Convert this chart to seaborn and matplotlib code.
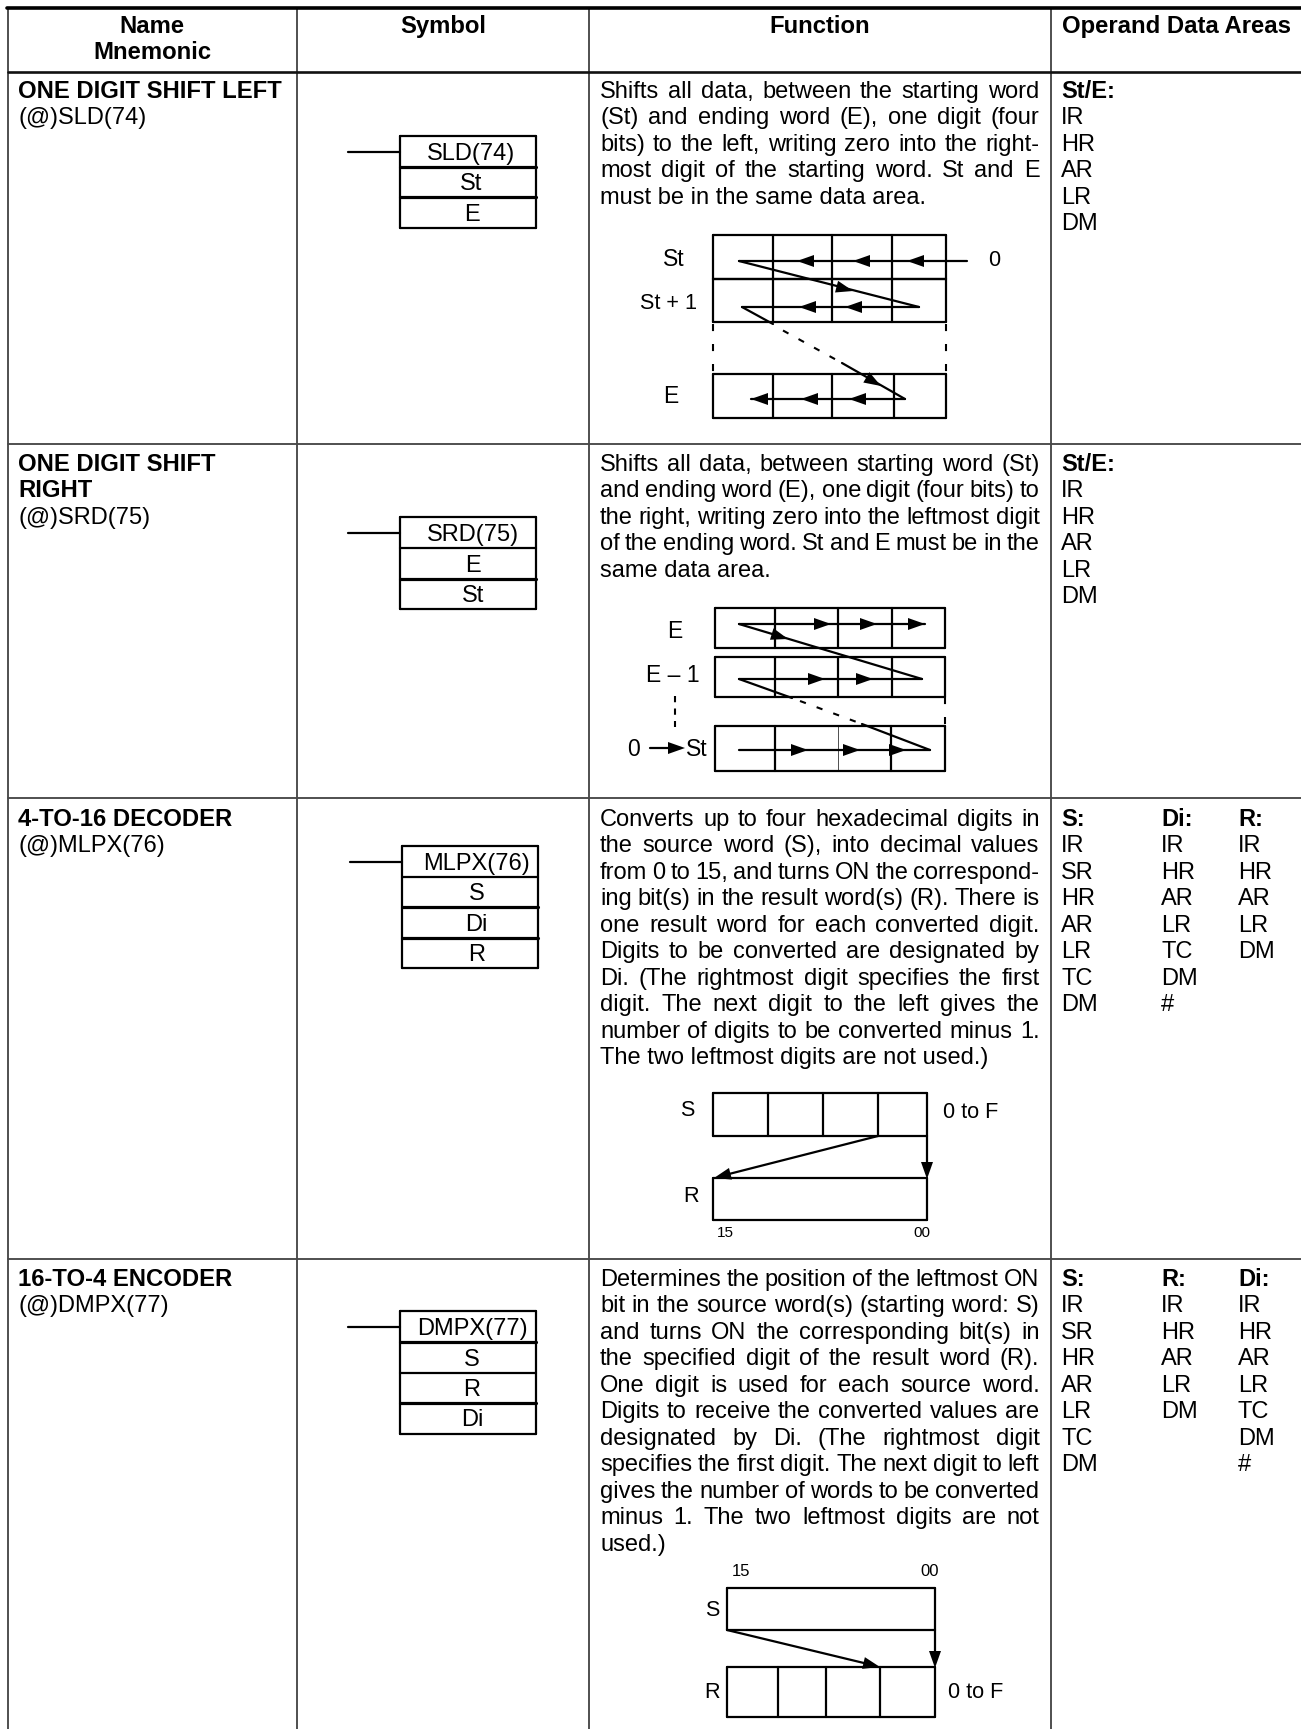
import numpy as np
import pandas as pd
import seaborn as sns
import matplotlib
matplotlib.use('Agg')
import matplotlib.pyplot as plt

W, H = 1301, 1729

# 表格结构
col_edges = [8, 297, 589, 1051]
row_edges = [444, 798, 1259]
header_line_y = 72
headers = [['Name', 'Mnemonic'], ['Symbol'], ['Function'], ['Operand Data Areas']]
header_x = [152, 443, 820, 1176]

names = [
    ['ONE DIGIT SHIFT LEFT'],
    ['ONE DIGIT SHIFT', 'RIGHT'],
    ['4-TO-16 DECODER'],
    ['16-TO-4 ENCODER'],
]
mnemonics = ['(@)SLD(74)', '(@)SRD(75)', '(@)MLPX(76)', '(@)DMPX(77)']

func_row1 = ['Shifts all data, between the starting word', '(St) and ending word (E), one digit (four',
             'bits) to the left, writing zero into the right-', 'most digit of the starting word. St and E',
             'must be in the same data area.']
func_row2 = ['Shifts all data, between starting word (St)', 'and ending word (E), one digit (four bits) to',
             'the right, writing zero into the leftmost digit', 'of the ending word. St and E must be in the',
             'same data area.']
func_row3 = ['Converts up to four hexadecimal digits in', 'the source word (S), into decimal values',
             'from 0 to 15, and turns ON the correspond-', 'ing bit(s) in the result word(s) (R). There is',
             'one result word for each converted digit.', 'Digits to be converted are designated by',
             'Di. (The rightmost digit specifies the first', 'digit. The next digit to the left gives the',
             'number of digits to be converted minus 1.', 'The two leftmost digits are not used.)']
func_row4 = ['Determines the position of the leftmost ON', 'bit in the source word(s) (starting word: S)',
             'and turns ON the corresponding bit(s) in', 'the specified digit of the result word (R).',
             'One digit is used for each source word.', 'Digits to receive the converted values are',
             'designated by Di. (The rightmost digit', 'specifies the first digit. The next digit to left',
             'gives the number of words to be converted', 'minus 1. The two leftmost digits are not', 'used.)']
func_rows = [func_row1, func_row2, func_row3, func_row4]
first_baseline = [98, 471, 826, 1286]

ops_head_1 = ['St/E:']
ops_1 = [['IR', 'HR', 'AR', 'LR', 'DM']]
ops_head_3 = ['S:', 'Di:', 'R:']
ops_3 = [['IR', 'SR', 'HR', 'AR', 'LR', 'TC', 'DM'], ['IR', 'HR', 'AR', 'LR', 'TC', 'DM', '#'], ['IR', 'HR', 'AR', 'LR', 'DM']]
ops_head_4 = ['S:', 'R:', 'Di:']
ops_4 = [['IR', 'SR', 'HR', 'AR', 'LR', 'TC', 'DM'], ['IR', 'HR', 'AR', 'LR', 'DM'], ['IR', 'HR', 'AR', 'LR', 'TC', 'DM', '#']]
ops_x = [1061, 1161, 1238]

# 梯形图符号
sym_labels = [['SLD(74)', 'St', 'E'], ['SRD(75)', 'E', 'St'], ['MLPX(76)', 'S', 'Di', 'R'], ['DMPX(77)', 'S', 'R', 'Di']]
sym_left = [399.5, 399.5, 402, 399.5]
sym_right = [536, 536, 538, 536]
sym_rows = [[136, 167, 197, 228], [517, 548, 579, 609], [846, 877, 907, 938, 968], [1311, 1342, 1373, 1403, 1434]]
sym_lead_x = [347.5, 347.5, 350, 347.5]
sym_text_x = [471.5, 473, 476.5, 472]
sym_thick = [[1, 1], [0, 1], [0, 1, 1], [1, 0, 1]]

FS = 17.0
LABEL = 15.6
BIG_LABEL = 16.5
LINE = 26.46
DARK = 'black'
GRID = '#484848'

sns.set_theme(style='white')
plt.rcParams['font.family'] = ['Liberation Sans', 'DejaVu Sans']

fig = plt.figure(figsize=(W / 100, H / 100), dpi=100)
ax = fig.add_axes([0, 0, 1, 1])

segments = []


def seg(x0, y0, x1, y1, group='thin'):
    # 收集线段，最后统一用 seaborn 画
    n = len(segments)
    segments.append({'seg': n, 'x': x0, 'y': y0, 'group': group})
    segments.append({'seg': n, 'x': x1, 'y': y1, 'group': group})


def head(tipx, tipy, fromx, fromy, length=17, half=6):
    # 实心箭头
    d = np.array([tipx - fromx, tipy - fromy], dtype=float)
    d = d / np.hypot(*d)
    n = np.array([-d[1], d[0]])
    tip = np.array([tipx, tipy])
    base = tip - d * length
    pts = np.array([tip, base + n * half, base - n * half])
    ax.fill(pts[:, 0], pts[:, 1], color='black', lw=0, zorder=5)


def txt(x, y, s, ha='center', size=FS, **kw):
    # y 是基线位置
    return ax.text(x, y, s, ha=ha, va='baseline', fontsize=size, color=DARK, **kw)


def label(x, y, s, ha='center', size=LABEL):
    return ax.text(x, y, s, ha=ha, va='center', fontsize=size, color=DARK)


def grid_box(x0, x1, y0, y1, dividers):
    for y in (y0, y1):
        seg(x0, y, x1, y)
    for x in [x0] + dividers + [x1]:
        seg(x, y0, x, y1)


def justify(line, x0, x1, y):
    # 两端对齐
    renderer = fig.canvas.get_renderer()
    words = line.split()
    items = [txt(x0, y, w, ha='left') for w in words]
    widths = [t.get_window_extent(renderer).width for t in items]
    gap = (x1 - x0 - sum(widths)) / (len(words) - 1)
    x = x0
    for t, w in zip(items, widths):
        t.set_x(x)
        x += w + gap


# 表格线
for x in col_edges:
    seg(x, 8, x, H, 'grid')
for y in row_edges:
    seg(8, y, W, y, 'grid')
seg(8, header_line_y, W, header_line_y, 'header')
seg(6.5, 8, W, 8, 'top')

# 表头
for lines, x in zip(headers, header_x):
    for i, s in enumerate(lines):
        txt(x, 33 + i * LINE, s, weight='bold', size=17.2)

# 名称列
for i, (nm, mn) in enumerate(zip(names, mnemonics)):
    y = first_baseline[i]
    for s in nm:
        txt(18, y, s, ha='left', weight='bold', size=17.2)
        y += LINE
    txt(18, y, mn, ha='left')

# 符号列
for i in range(4):
    rows = sym_rows[i]
    x0, x1 = sym_left[i], sym_right[i]
    lead_y = (rows[0] + rows[1]) / 2
    seg(sym_lead_x[i], lead_y, x0, lead_y)
    grid_box(x0, x1, rows[0], rows[-1], [])
    for y, thick in zip(rows[1:-1], sym_thick[i]):
        seg(x0, y, x1, y, 'thick' if thick else 'thin')
    for j, s in enumerate(sym_labels[i]):
        txt(sym_text_x[i], (rows[j] + rows[j + 1]) / 2 + 8, s)

# 功能列
for lines, y0 in zip(func_rows, first_baseline):
    for i, s in enumerate(lines):
        y = y0 + i * LINE
        if i == len(lines) - 1:
            txt(600, y, s, ha='left')
        else:
            justify(s, 600, 1039.5, y)

# 操作数列
for y0 in first_baseline[:2]:
    txt(ops_x[0], y0, ops_head_1[0], ha='left', weight='bold')
    for i, s in enumerate(ops_1[0]):
        txt(ops_x[0], y0 + (i + 1) * LINE, s, ha='left')
for y0, hd, cols in [(first_baseline[2], ops_head_3, ops_3), (first_baseline[3], ops_head_4, ops_4)]:
    for x, h, col in zip(ops_x, hd, cols):
        txt(x, y0, h, ha='left', weight='bold')
        for i, s in enumerate(col):
            txt(x, y0 + (i + 1) * LINE, s, ha='left')

# 图 1：SLD
grid_box(713, 946, 235, 279, [773, 832, 892])
grid_box(713, 946, 279, 322, [773, 832, 892])
grid_box(713, 946, 374, 418, [773, 832, 894])
seg(967, 261, 739, 261)
seg(739, 261, 919, 307)
seg(919, 307, 742, 307)
seg(742, 307, 773, 324)
seg(842, 363, 905, 399)
seg(905, 399, 751, 399)
for tx in [797, 853, 907]:
    head(tx, 261, tx + 20, 261)
for tx in [799, 845]:
    head(tx, 307, tx + 20, 307)
for tx in [751, 801, 849]:
    head(tx, 399, tx + 20, 399)
head(853, 291, 739, 261)
head(881, 386, 842, 363)
ax.plot([783, 842], [330.5, 363], color='black', lw=1.5, ls=(0, (3, 5.5)))
for x in [713, 946]:
    ax.plot([x, x], [324, 374], color='black', lw=1.5, ls=(0, (3.4, 6.2)))
label(674, 259, 'St', size=BIG_LABEL)
label(668, 303, 'St + 1')
label(671, 396, 'E', size=BIG_LABEL)
label(994, 260, '0')

# 图 2：SRD
grid_box(715, 945, 608, 648, [775, 838, 892])
grid_box(715, 945, 657, 697, [775, 838, 892])
grid_box(715, 945, 726, 771, [775, 891])
seg(838, 726, 838, 771, 'hair')
seg(739, 624, 925, 624)
seg(739, 624, 922, 679)
seg(922, 679, 739, 679)
seg(739, 679, 792, 698)
seg(862, 724, 930, 750)
seg(739, 750, 930, 750)
seg(650, 748, 680, 748)
for tx in [831, 877, 925]:
    head(tx, 624, tx - 20, 624)
for tx in [825, 873]:
    head(tx, 679, tx - 20, 679)
for tx in [808, 860, 906]:
    head(tx, 750, tx - 20, 750)
head(788, 639, 739, 624)
head(685, 748, 665, 748)
ax.plot([800, 862], [701, 724], color='black', lw=1.5, ls=(0, (3, 5.5)))
ax.plot([945, 945], [697, 726], color='black', lw=1.5, ls=(0, (3.4, 6.2)))
ax.plot([675, 675], [696, 727], color='black', lw=1.5, ls=(0, (3, 3)))
label(675, 632, 'E', size=BIG_LABEL)
label(673, 676, 'E – 1', size=BIG_LABEL)
label(633, 749, '0', size=BIG_LABEL)
label(697, 749, 'St', size=BIG_LABEL)

# 图 3：MLPX
grid_box(713, 927, 1093, 1136, [768, 823, 878])
grid_box(713, 927, 1178, 1220, [])
seg(878, 1136, 725, 1175)
seg(927, 1136, 927, 1165)
head(714, 1178, 878, 1136)
head(927, 1179, 927, 1136)
label(687, 1111, 'S')
label(691, 1196, 'R')
label(943, 1113, '0 to F', ha='left')
label(725, 1233, '15', size=11)
label(922, 1233, '00', size=11)

# 图 4：DMPX
grid_box(727, 935, 1588, 1630, [])
grid_box(727, 935, 1667, 1717, [778, 826, 880])
seg(727, 1630, 868, 1664)
seg(935, 1630, 935, 1655)
head(880, 1667, 727, 1630)
head(935, 1668, 935, 1630)
label(741, 1571, '15', size=12)
label(930, 1571, '00', size=12)
label(712, 1610, 'S')
label(712, 1693, 'R')
label(948, 1692, '0 to F', ha='left')

# 线段统一绘制
df = pd.DataFrame(segments)
widths = {'thin': 1.6, 'thick': 2.3, 'grid': 1.35, 'header': 1.9, 'top': 2.6, 'hair': 0.6}
colors = {'thin': 'black', 'thick': 'black', 'grid': GRID, 'header': '#111111', 'top': 'black', 'hair': '#333333'}
for g, part in df.groupby('group'):
    sns.lineplot(data=part, x='x', y='y', units='seg', estimator=None, sort=False,
                 color=colors[g], linewidth=widths[g], ax=ax, legend=False)

ax.set_xlim(0, W)
ax.set_ylim(H, 0)
ax.axis('off')
fig.savefig('out.png', dpi=100)
